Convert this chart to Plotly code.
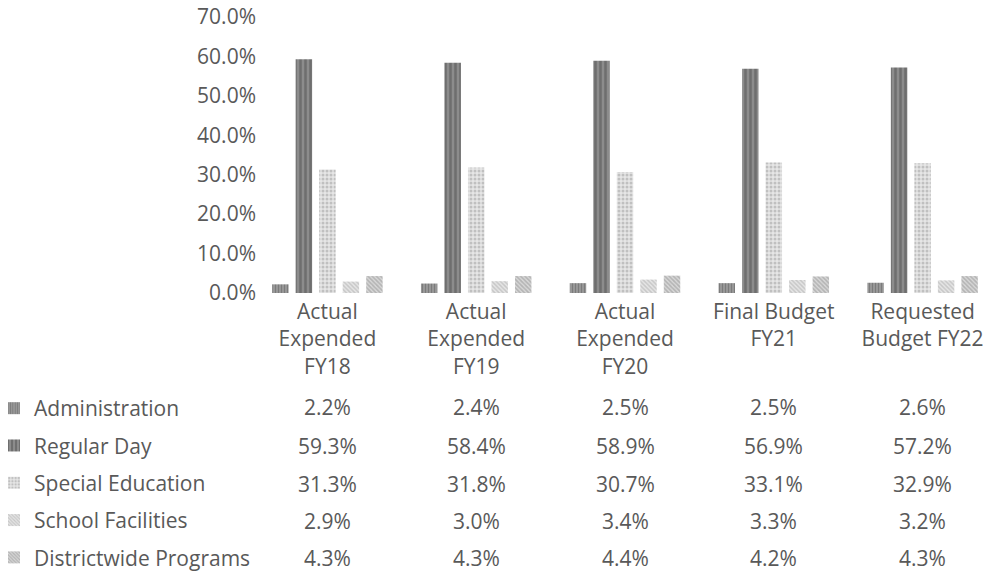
import plotly.graph_objects as go

categories = ["Actual<br>Expended<br>FY18", "Actual<br>Expended<br>FY19", "Actual<br>Expended<br>FY20",
              "Final Budget<br>FY21", "Requested<br>Budget FY22"]
series_names = ["Administration", "Regular Day", "Special Education", "School Facilities", "Districtwide Programs"]
administration = [2.2, 2.4, 2.5, 2.5, 2.6]
regular_day = [59.3, 58.4, 58.9, 56.9, 57.2]
special_education = [31.3, 31.8, 30.7, 33.1, 32.9]
school_facilities = [2.9, 3.0, 3.4, 3.3, 3.2]
districtwide = [4.3, 4.3, 4.4, 4.2, 4.3]
y_ticks = [0, 10, 20, 30, 40, 50, 60, 70]

series_values = [administration, regular_day, special_education, school_facilities, districtwide]
patterns = [
    dict(shape="|", fgcolor="#555555", bgcolor="#a0a0a0", size=3, solidity=0.5),
    dict(shape="|", fgcolor="#4f4f4f", bgcolor="#8c8c8c", size=5, solidity=0.5),
    dict(shape=".", fgcolor="#9a9a9a", bgcolor="#e6e6e6", size=4, solidity=0.45),
    dict(shape="\\", fgcolor="#a8a8a8", bgcolor="#e6e6e6", size=3, solidity=0.5),
    dict(shape="\\", fgcolor="#909090", bgcolor="#d8d8d8", size=3, solidity=0.55),
]

TXT = "#595959"
FONT = "Open Sans"
FS = 21

fig = go.Figure()
for name, vals, pat in zip(series_names, series_values, patterns):
    fig.add_trace(go.Bar(
        x=categories, y=vals, name=name, legendgroup=name,
        marker=dict(color=pat["bgcolor"], pattern=pat, line=dict(width=0)),
    ))

# data table values (paper coords; paper spans full height with t=17, b=0)
row_y = [0.2986, 0.2293, 0.1601, 0.0935, 0.0270]
annotations = []
for ry, vals in zip(row_y, series_values):
    for cat, v in zip(categories, vals):
        annotations.append(dict(x=cat, y=ry, xref="x", yref="paper", text=f"{v:.1f}%",
                                showarrow=False, font=dict(family=FONT, size=FS, color=TXT),
                                xanchor="center", yanchor="middle"))

fig.update_layout(
    width=997, height=573,
    margin=dict(l=0, r=0, t=17, b=0, autoexpand=False),
    paper_bgcolor="white", plot_bgcolor="white",
    barmode="group", bargap=0.21, bargroupgap=0.3,
    font=dict(family=FONT, size=FS, color=TXT),
    showlegend=True,
    legend=dict(x=-0.006, y=0.3327, xref="paper", yref="paper", xanchor="left", yanchor="top",
                orientation="v", tracegroupgap=7, font=dict(family=FONT, size=FS, color=TXT),
                bgcolor="rgba(0,0,0,0)", borderwidth=0),
    annotations=annotations,
    xaxis=dict(domain=[253 / 997, 1], showline=False, showgrid=False, zeroline=False, ticks="",
               tickfont=dict(family=FONT, size=FS, color=TXT), tickangle=0, ticklabelstandoff=4),
    yaxis=dict(domain=[280 / 556, 1], range=[0, 70], tickvals=y_ticks,
               ticktext=[f"{t:.1f}%" for t in y_ticks],
               showline=False, showgrid=False, zeroline=False, ticks="",
               tickfont=dict(family=FONT, size=FS, color=TXT), ticklabelstandoff=-4),
)

fig.write_html("out.html")
